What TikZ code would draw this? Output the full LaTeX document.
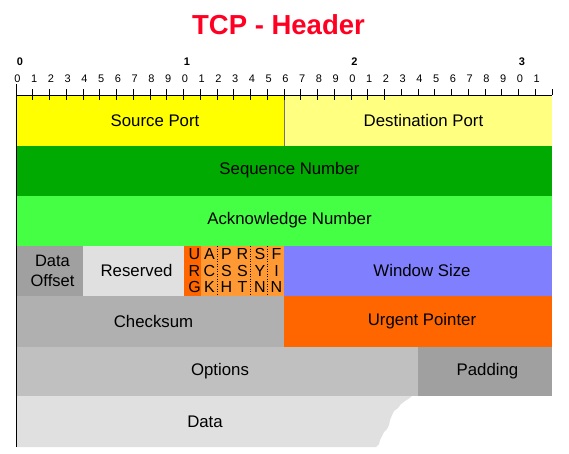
\documentclass[tikz,border=0pt]{standalone}
\usepackage{fontspec}
\setmainfont{Liberation Sans}
\definecolor{cYellow}{HTML}{FFFF00}
\definecolor{cLYellow}{HTML}{FFFF80}
\definecolor{cSeq}{HTML}{00AA00}
\definecolor{cAck}{HTML}{44FF44}
\definecolor{cDark}{HTML}{A0A0A0}
\definecolor{cLight}{HTML}{E0E0E0}
\definecolor{cUrg}{HTML}{FF6600}
\definecolor{cFlag}{HTML}{FF9933}
\definecolor{cWin}{HTML}{8080FF}
\definecolor{cCheck}{HTML}{B0B0B0}
\definecolor{cOpt}{HTML}{C0C0C0}
\definecolor{cTitle}{HTML}{FF0022}
\begin{document}
\begin{tikzpicture}[x=1pt,y=-1pt,
  fieldbox/.style={anchor=north west, inner sep=0pt, outer sep=0pt, draw=none},
  lbl/.style={font=\fontsize{16.8}{17}\selectfont, inner sep=0pt, align=center},
  flagtxt/.style={font=\fontsize{16}{16.8}\selectfont, inner sep=0pt, align=center},
  digit/.style={font=\fontsize{11}{12}\selectfont, inner sep=0pt},
  bigdigit/.style={font=\fontsize{11}{12}\selectfont\bfseries, inner sep=0pt},
  titlestyle/.style={font=\fontsize{27.5}{30}\selectfont\bfseries, text=cTitle, inner sep=0pt},
  flagsep/.style={line width=0.6pt, dash pattern=on 1pt off 1.5pt}
]
\useasboundingbox[fill=white] (0,0) rectangle (569,453);

% row 1
\node[fieldbox, fill=cYellow, minimum width=268pt, minimum height=49.5pt] (sp) at (16,96) {};
\node[fieldbox, fill=cLYellow, minimum width=268pt, minimum height=49.5pt] (dp) at (284,96) {};
% row 2
\node[fieldbox, fill=cSeq, minimum width=536pt, minimum height=50pt] (seq) at (16,145.5) {};
% row 3
\node[fieldbox, fill=cAck, minimum width=536pt, minimum height=50.2pt] (ack) at (16,195.5) {};
% row 4
\node[fieldbox, fill=cDark, minimum width=67pt, minimum height=49.8pt] (off) at (16,245.7) {};
\node[fieldbox, fill=cLight, minimum width=101pt, minimum height=49.8pt] (res) at (83,245.7) {};
\node[fieldbox, fill=cUrg, minimum width=17pt, minimum height=49.8pt] (urg) at (184,245.7) {};
\node[fieldbox, fill=cFlag, minimum width=83pt, minimum height=49.8pt] (flags) at (201,245.7) {};
\node[fieldbox, fill=cWin, minimum width=268pt, minimum height=49.8pt] (win) at (284,245.7) {};
% row 5
\node[fieldbox, fill=cCheck, minimum width=268pt, minimum height=51pt] (chk) at (16,295.5) {};
\node[fieldbox, fill=cUrg, minimum width=268pt, minimum height=51pt] (urp) at (284,295.5) {};
% row 6
\node[fieldbox, fill=cOpt, minimum width=402pt, minimum height=49.5pt] (opt) at (16,346.5) {};
\node[fieldbox, fill=cDark, minimum width=134pt, minimum height=49.5pt] (pad) at (418,346.5) {};
% row 7 (torn data)
\fill[cLight] (16,396) -- (412,396) -- (409,398.5) -- (405,401) -- (401,404) -- (398,408) -- (394,411) -- (392,415) -- (390,420) -- (389,425) -- (387,429) -- (384,432) -- (382,436) -- (380,440) -- (379,444) -- (376,447) -- (16,447) -- cycle;
\coordinate (datac) at (205,421.5);

% separators
\draw[line width=0.8pt, black!55] (sp.north east) -- (sp.south east);
\draw[flagsep] (217,246) -- (217,295);
\draw[flagsep] (250.5,246) -- (250.5,295);
\draw[flagsep] (267.3,246) -- (267.3,295);

% labels
\node[lbl] (tsp) at ([xshift=5pt]sp.center) {Source Port};
\node[lbl] (tdp) at ([xshift=5.5pt]dp.center) {Destination Port};
\node[lbl] (tseq) at ([xshift=5.5pt]seq.center) {Sequence Number};
\node[lbl] (tack) at ([xshift=5.5pt]ack.center) {Acknowledge Number};
\node[lbl, font=\fontsize{16.5}{20.5}\selectfont] (toff) at ([xshift=3pt,yshift=-0.5pt]off.center) {Data\\Offset};
\node[lbl] (tres) at ([xshift=3pt]res.center) {Reserved};
\node[flagtxt] (turg) at ([xshift=2pt]urg.center) {U\\R\\G};
\node[flagtxt] (tack2) at (209.5,270.5) {A\\C\\K};
\node[flagtxt] (tpsh) at (226.5,270.5) {P\\S\\H};
\node[flagtxt] (trst) at (242.5,270.5) {R\\S\\T};
\node[flagtxt] (tsyn) at (260,270.5) {S\\Y\\N};
\node[flagtxt] (tfin) at (276.5,270.5) {F\\I\\N};
\node[lbl] (twin) at ([xshift=4pt]win.center) {Window Size};
\node[lbl] (tchk) at ([xshift=3.5pt]chk.center) {Checksum};
\node[lbl] (turp) at ([xshift=4pt]urp.center) {Urgent Pointer};
\node[lbl] (topt) at ([xshift=3pt]opt.center) {Options};
\node[lbl] (tpad) at ([xshift=2.5pt]pad.center) {Padding};
\node[lbl] (tdata) at (datac) {Data};

% ruler
\draw[line width=0.9pt] (16,95) -- (552,95);
\draw[line width=0.9pt] (16,84) -- (16,447);
\foreach \i in {1,...,22} \draw[line width=0.8pt] (16+\i*16.75,89) -- (16+\i*16.75,100);
\foreach \i in {23,...,32} \draw[line width=0.8pt] (16+\i*16.75,89) -- (16+\i*16.75,95);
\foreach \i in {0,...,31} {
  \pgfmathtruncatemacro\d{mod(\i,10)}
  \node[digit] (d\i) at (17.5+\i*16.75,78.5) {\d};
}
\node[bigdigit] (b0) at (20,61.5) {0};
\node[bigdigit] (b1) at (187,61.5) {1};
\node[bigdigit] (b2) at (354.5,61.5) {2};
\node[bigdigit] (b3) at (522,61.5) {3};

% title
\node[titlestyle] (title) at (278.5,25) {TCP - Header};
\end{tikzpicture}
\end{document}
